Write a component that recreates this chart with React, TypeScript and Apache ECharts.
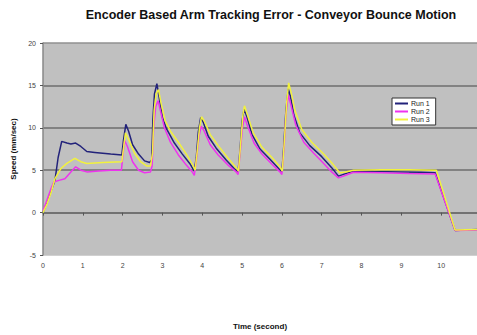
import React, { useEffect, useRef } from "react";
import * as echarts from "echarts";

const titleText = "Encoder Based Arm Tracking Error - Conveyor Bounce Motion";
const xAxisTitle = "Time (second)";
const yAxisTitle = "Speed (mm/sec)";
const seriesNames = ["Run 1", "Run 2", "Run 3"];
const xTickValues = [0, 1, 2, 3, 4, 5, 6, 7, 8, 9, 10];

const run1: number[][] = [
  [0, 0], [0.1, 1.2], [0.2, 2.5], [0.3, 3.8], [0.38, 6.5], [0.47, 8.4], [0.6, 8.2], [0.7, 8.1],
  [0.82, 8.2], [0.95, 7.8], [1.1, 7.2], [1.3, 7.1], [1.5, 7.0], [1.7, 6.9], [1.98, 6.8], [2.02, 8.5],
  [2.08, 10.4], [2.15, 9.6], [2.25, 8.0], [2.4, 6.9], [2.55, 6.1], [2.68, 5.9], [2.73, 6.2], [2.76, 11],
  [2.8, 14.0], [2.86, 15.2], [2.92, 13.5], [3.0, 11.2], [3.1, 9.9], [3.3, 8.2], [3.5, 6.9], [3.7, 5.7],
  [3.8, 4.9], [3.85, 6.5], [3.9, 9.5], [3.96, 11.2], [4.02, 10.7], [4.15, 9.0], [4.35, 7.6], [4.6, 6.2],
  [4.8, 5.2], [4.9, 4.8], [4.95, 7.5], [5.0, 10.8], [5.05, 12.2], [5.12, 11.3], [5.25, 9.2], [5.45, 7.5],
  [5.7, 6.3], [5.9, 5.3], [6.0, 4.8], [6.05, 8], [6.1, 12.0], [6.16, 14.6], [6.22, 13.6], [6.3, 11.5],
  [6.45, 9.4], [6.7, 7.9], [7.0, 6.6], [7.25, 5.3], [7.42, 4.3], [7.6, 4.6], [7.8, 4.9], [8.3, 4.85],
  [9.0, 4.8], [9.5, 4.75], [9.85, 4.7], [10.35, -2.1], [10.9, -2.0],
];

const run2: number[][] = [
  [0, 0.2], [0.1, 1.5], [0.2, 2.8], [0.27, 3.6], [0.4, 3.8], [0.55, 4.0], [0.7, 4.8], [0.82, 5.4],
  [0.95, 5.0], [1.1, 4.8], [1.4, 4.9], [1.7, 5.0], [1.97, 5.0], [2.0, 6.5], [2.05, 8.5], [2.12, 7.8],
  [2.25, 6.0], [2.4, 5.0], [2.55, 4.7], [2.7, 4.8], [2.74, 5.5], [2.78, 10], [2.83, 12.5], [2.89, 13.2],
  [2.95, 12.0], [3.05, 10.0], [3.2, 8.3], [3.4, 6.8], [3.6, 5.6], [3.75, 4.8], [3.8, 4.4], [3.86, 6.5],
  [3.92, 9.0], [3.97, 10.2], [4.05, 9.6], [4.2, 8.0], [4.4, 6.8], [4.65, 5.6], [4.85, 4.8], [4.9, 4.5],
  [4.96, 7.5], [5.01, 10.0], [5.06, 11.3], [5.13, 10.3], [5.3, 8.2], [5.5, 6.9], [5.75, 5.7], [5.95, 4.8],
  [6.0, 4.5], [6.06, 8], [6.1, 11.5], [6.16, 13.9], [6.22, 12.8], [6.35, 10.3], [6.55, 8.3], [6.8, 7.0],
  [7.05, 5.8], [7.25, 4.8], [7.42, 4.1], [7.6, 4.4], [7.8, 4.75], [8.5, 4.7], [9.2, 4.6], [9.85, 4.55],
  [10.35, -2.1], [10.9, -2.05],
];

const run3: number[][] = [
  [0, 0], [0.1, 1.0], [0.2, 2.3], [0.3, 4.0], [0.45, 5.2], [0.6, 5.8], [0.8, 6.4], [0.95, 6.0],
  [1.1, 5.8], [1.5, 5.9], [1.98, 6.0], [2.02, 7.5], [2.07, 9.4], [2.15, 8.6], [2.3, 7.0], [2.45, 6.0],
  [2.6, 5.5], [2.7, 5.5], [2.75, 7], [2.79, 12], [2.84, 14.0], [2.9, 14.5], [2.97, 12.8], [3.07, 10.8],
  [3.2, 9.6], [3.4, 8.3], [3.6, 6.9], [3.75, 5.7], [3.82, 5.0], [3.88, 7.5], [3.93, 10], [3.98, 11.3],
  [4.05, 10.8], [4.2, 9.2], [4.4, 7.9], [4.65, 6.4], [4.85, 5.3], [4.91, 4.9], [4.97, 8.5], [5.02, 11.5],
  [5.06, 12.6], [5.13, 11.6], [5.28, 9.4], [5.5, 7.7], [5.75, 6.5], [5.95, 5.4], [6.01, 4.9], [6.07, 9],
  [6.12, 13], [6.17, 15.3], [6.23, 14.2], [6.33, 12.0], [6.5, 9.8], [6.75, 8.3], [7.05, 6.9], [7.3, 5.6],
  [7.45, 4.7], [7.6, 4.8], [7.8, 5.0], [8.5, 5.05], [9.2, 5.05], [9.88, 5.0], [10.35, -2.05], [10.9, -2.0],
];

const seriesData = [run1, run2, run3];
const seriesColors = ["#22227a", "#ee33ee", "#f2f23c"];

export default function App() {
  const ref = useRef<HTMLDivElement>(null);
  useEffect(() => {
    if (!ref.current) return;
    const chart = echarts.init(ref.current, null, { renderer: "svg" });
    const font = "'Liberation Sans', Arial, sans-serif";
    chart.setOption({
      animation: false,
      backgroundColor: "#ffffff",
      textStyle: { fontFamily: font },
      graphic: [
        {
          type: "text",
          x: 271,
          y: 15,
          style: {
            text: titleText,
            align: "center",
            verticalAlign: "middle",
            fontSize: 12.5,
            fontWeight: "bold",
            fill: "#111",
            fontFamily: font,
          },
        },
      ],
      legend: {
        data: seriesNames,
        orient: "vertical",
        left: 392,
        top: 98,
        backgroundColor: "#ffffff",
        borderColor: "#333",
        borderWidth: 1,
        padding: [2, 6, 2, 3],
        itemGap: 1,
        itemWidth: 13,
        itemHeight: 2,
        icon: "rect",
        textStyle: { fontSize: 7, color: "#222", fontFamily: font, padding: [0, 0, 0, -2] },
      },
      grid: {
        left: 43,
        top: 43,
        right: 0,
        bottom: 22,
        show: true,
        backgroundColor: "#c0c0c0",
        borderColor: "#c0c0c0",
        borderWidth: 0,
        containLabel: false,
      },
      xAxis: {
        type: "value",
        min: 0,
        max: 10.9,
        interval: 1,
        name: xAxisTitle,
        nameLocation: "middle",
        nameGap: 67,
        nameTextStyle: { fontSize: 8, fontWeight: "bold", color: "#111", fontFamily: font },
        axisLine: { onZero: true, lineStyle: { color: "#6e6e6e", width: 1.5 } },
        axisTick: { show: true, length: 3, customValues: xTickValues, lineStyle: { color: "#555" } },
        axisLabel: { customValues: xTickValues, fontSize: 7, color: "#444", margin: 7 },
        splitLine: { show: false },
      },
      yAxis: {
        type: "value",
        min: -5,
        max: 20,
        interval: 5,
        name: yAxisTitle,
        nameLocation: "middle",
        nameGap: 25,
        nameRotate: 90,
        nameTextStyle: { fontSize: 8, fontWeight: "bold", color: "#111", fontFamily: font },
        axisLine: { show: true, onZero: false, lineStyle: { color: "#888", width: 1.5 } },
        axisTick: { show: true, length: 3, lineStyle: { color: "#555" } },
        axisLabel: { fontSize: 7, color: "#444", margin: 7 },
        splitLine: {
          show: true,
          lineStyle: {
            color: ["#c0c0c0", "#6e6e6e", "#6e6e6e", "#6e6e6e", "#6e6e6e", "#909090"],
            width: 1.5,
          },
        },
      },
      series: seriesData.map((d, i) => ({
        name: seriesNames[i],
        type: "line",
        data: d,
        showSymbol: false,
        symbol: "none",
        color: seriesColors[i],
        lineStyle: { width: 1.5, color: seriesColors[i] },
        z: 3 + i,
      })),
    });
    return () => chart.dispose();
  }, []);
  return (
    <div
      ref={ref}
      style={{ position: "fixed", left: 0, top: 0, width: 477, height: 335 }}
    />
  );
}
